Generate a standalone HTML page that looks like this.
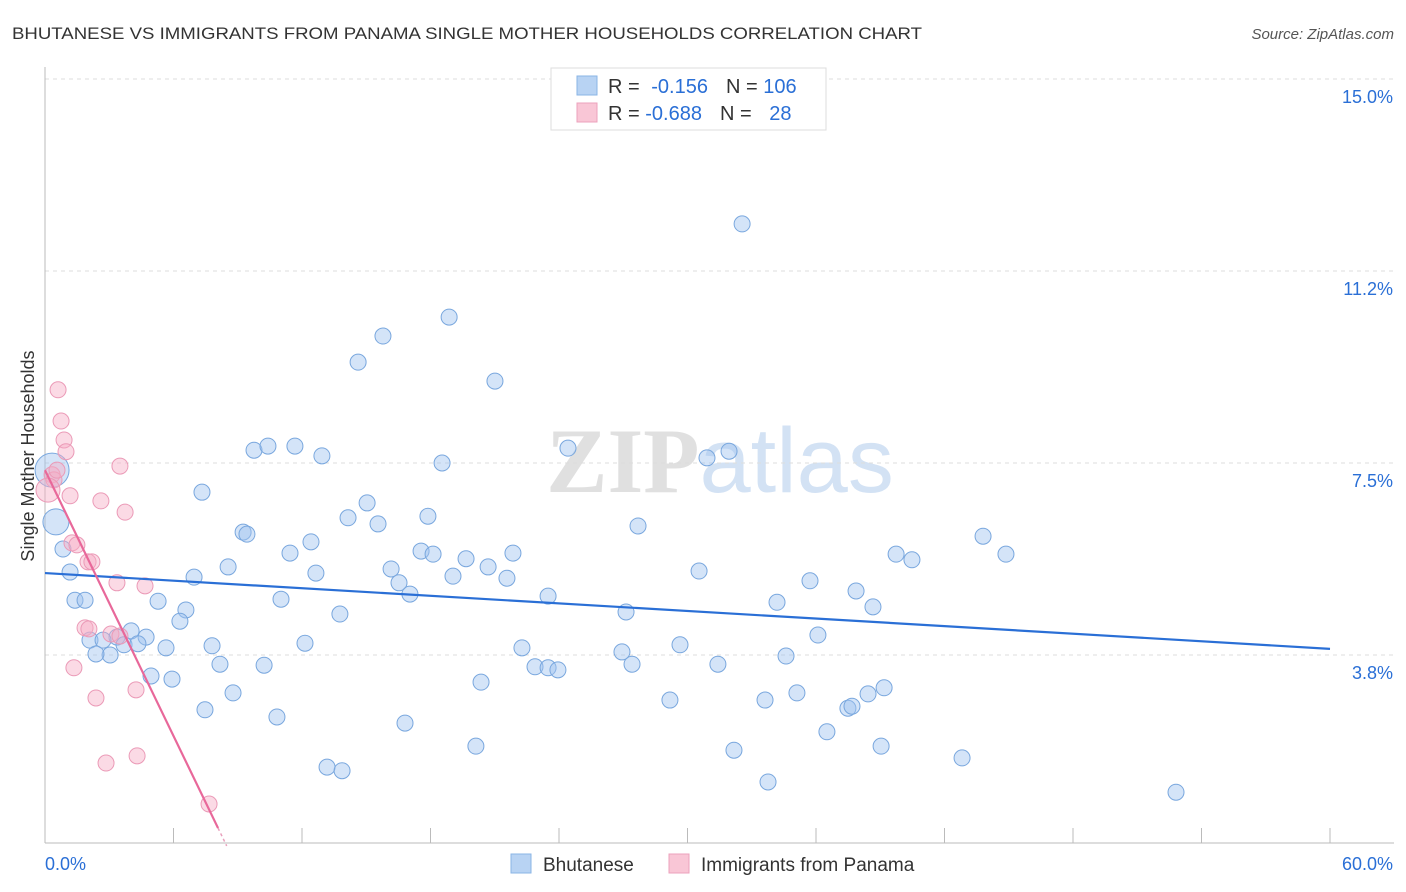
<!DOCTYPE html>
<html><head><meta charset="utf-8">
<style>
body{margin:0;background:#fff;font-family:"Liberation Sans",sans-serif;}
svg{display:block}
</style></head>
<body>
<svg id="chart" width="1406" height="892">
  <text x="12" y="39" font-size="17" fill="#333" textLength="910" lengthAdjust="spacingAndGlyphs">BHUTANESE VS IMMIGRANTS FROM PANAMA SINGLE MOTHER HOUSEHOLDS CORRELATION CHART</text>
  <text x="1394" y="39" font-size="15" fill="#555" font-style="italic" text-anchor="end">Source: ZipAtlas.com</text>
  <text x="720" y="492" font-size="92" text-anchor="middle" font-family="Liberation Serif,serif"><tspan fill="#e0e0e0" font-weight="bold">ZIP</tspan><tspan fill="#d3e2f4" font-family="Liberation Sans,sans-serif">atlas</tspan></text>
  <text transform="translate(34,456) rotate(-90)" font-size="18" fill="#333" text-anchor="middle">Single Mother Households</text>
  <g id="grid"></g>
  <g id="axes"></g>
  <g id="marks"></g>
  <g>
    <rect x="551" y="68" width="275" height="62" fill="#fff" stroke="#ddd"/>
    <rect x="577" y="76" width="20" height="19" fill="#b8d3f3" stroke="#8ab4e6"/>
    <rect x="577" y="103" width="20" height="19" fill="#f9c6d6" stroke="#eca2bc"/>
    <text x="608" y="93" font-size="20" fill="#333">R = <tspan fill="#2a6fd6" dx="6">-0.156</tspan><tspan dx="18" fill="#333">N = </tspan><tspan fill="#2a6fd6">106</tspan></text>
    <text x="608" y="120" font-size="20" fill="#333">R = <tspan fill="#2a6fd6">-0.688</tspan><tspan dx="18" fill="#333">N = </tspan><tspan fill="#2a6fd6" dx="12">28</tspan></text>
  </g>
  <g>
    <rect x="511" y="854" width="20" height="19" fill="#b8d3f3" stroke="#8ab4e6"/>
    <text x="543" y="871" font-size="19" fill="#333">Bhutanese</text>
    <rect x="669" y="854" width="20" height="19" fill="#f9c6d6" stroke="#eca2bc"/>
    <text x="701" y="871" font-size="19" fill="#333">Immigrants from Panama</text>
  </g>
</svg>
<script>
const yTicks=[15.0,11.25,7.5,3.75];
const yTickLabels=["15.0%","11.2%","7.5%","3.8%"];
const xTicks=[0,6,12,18,24,30,36,42,48,54,60];
const xTickLabels=["0.0%","60.0%"];
const blueX=[32.55,18.87,15.78,14.62,21.01,9.76,10.41,11.67,12.93,18.54,24.42,30.91,31.94,7.33,15.04,14.15,17.88,15.55,9.25,9.43,27.69,43.80,11.44,12.42,17.56,18.12,19.66,21.85,39.74,40.48,44.87,8.55,12.65,16.16,16.53,19.05,20.69,21.57,30.54,35.72,6.96,1.17,0.84,1.40,1.87,5.28,6.58,11.02,13.77,17.04,23.49,27.13,34.18,37.87,38.66,6.30,4.02,4.72,3.36,2.10,2.71,3.69,4.34,3.04,2.38,5.65,7.80,12.14,22.27,26.94,29.65,36.09,34.60,8.17,10.23,22.88,23.49,23.95,27.41,31.42,4.95,5.93,20.36,8.78,29.18,33.62,35.11,38.43,39.18,7.47,10.83,16.81,37.49,37.68,36.51,20.12,32.17,39.04,42.82,13.17,13.87,33.76,52.81,0.51,0.33];
const blueY=[12.17,10.35,9.98,9.47,9.10,7.75,7.83,7.83,7.64,7.50,7.79,7.60,7.73,6.93,6.72,6.43,6.46,6.31,6.15,6.11,6.27,6.07,5.74,5.96,5.78,5.72,5.63,5.74,5.72,5.61,5.72,5.47,5.35,5.43,5.16,5.29,5.47,5.25,5.39,5.20,5.27,5.37,5.82,4.82,4.82,4.80,4.63,4.84,4.55,4.94,4.90,4.59,4.78,5.00,4.69,4.41,4.22,4.10,4.10,4.04,4.04,3.95,3.97,3.75,3.77,3.89,3.93,3.98,3.89,3.81,3.95,4.14,3.73,3.57,3.55,3.52,3.50,3.46,3.57,3.57,3.34,3.28,3.22,3.01,2.87,2.87,3.01,2.99,3.11,2.68,2.54,2.42,2.71,2.75,2.25,1.97,1.89,1.97,1.74,1.56,1.49,1.27,1.07,6.35,7.36];
const blueSize=[];for(let i=0;i<blueX.length;i++)blueSize.push(8);blueSize[blueX.length-2]=13;blueSize[blueX.length-1]=17;
const pinkX=[0.61,0.75,0.89,0.98,3.50,0.33,0.42,0.56,1.17,2.61,3.74,1.26,1.49,2.01,2.19,3.36,4.67,1.87,2.05,3.08,3.50,1.35,2.38,4.25,2.85,4.30,7.66,0.14];
const pinkY=[8.93,8.32,7.95,7.72,7.44,7.27,7.17,7.36,6.86,6.76,6.54,5.94,5.90,5.57,5.57,5.16,5.10,4.28,4.26,4.16,4.12,3.50,2.91,3.07,1.64,1.78,0.84,6.97];
const blueTrend=[5.35,3.87];
const pinkTrend=[7.36,0.37,8.08];

const NS="http://www.w3.org/2000/svg";
const sx=v=>45+v/60*1285;
const sy=v=>79+(15-v)*51.2;
function mk(tag,attrs,parent){const e=document.createElementNS(NS,tag);for(const k in attrs)e.setAttribute(k,attrs[k]);document.getElementById(parent).appendChild(e);return e;}
yTicks.forEach((t,i)=>{
  const l=mk('line',{x1:45,x2:1394,y1:sy(t),y2:sy(t),stroke:'#ddd','stroke-dasharray':'4,4'},'grid');
  
  
  const tx=mk('text',{x:1393,y:sy(t)+24,'font-size':18,fill:'#2a6fd6','text-anchor':'end'},'grid');
  tx.textContent=yTickLabels[i];
  
  
});
let a=mk('line',{x1:45,x2:45,y1:67,y2:843,stroke:'#bbb'},'axes');


a=mk('line',{x1:45,x2:1394,y1:843,y2:843,stroke:'#bbb'},'axes');


xTicks.forEach(t=>{
  const l=mk('line',{x1:sx(t),x2:sx(t),y1:828,y2:843,stroke:'#bbb'},'axes');
  
  
});
let t1=mk('text',{x:45,y:870,'font-size':18,fill:'#2a6fd6'},'axes');t1.textContent=xTickLabels[0];


let t2=mk('text',{x:1393,y:870,'font-size':18,fill:'#2a6fd6','text-anchor':'end'},'axes');t2.textContent=xTickLabels[1];


blueX.forEach((x,i)=>{
  const c=mk('circle',{cx:sx(x),cy:sy(blueY[i]),r:blueSize[i],fill:'rgba(160,196,240,0.45)',stroke:'#79a7de','stroke-width':1},'marks');
  
  
});
pinkX.forEach((x,i)=>{
  const c=mk('circle',{cx:sx(x),cy:sy(pinkY[i]),r:i==pinkX.length-1?12:8,fill:'rgba(246,172,198,0.45)',stroke:'#eb9ab7','stroke-width':1},'marks');
  
  
});
let bl=mk('line',{x1:sx(0),y1:sy(blueTrend[0]),x2:sx(60),y2:sy(blueTrend[1]),stroke:'#2a6fd6','stroke-width':2.2},'marks');


const pEnd=pinkTrend[2]*1.0, pYEnd=pinkTrend[1];
let pl=mk('line',{x1:sx(0),y1:sy(pinkTrend[0]),x2:sx(pEnd),y2:sy(pYEnd),stroke:'#e8689a','stroke-width':2.2},'marks');


let pd=mk('line',{x1:sx(pEnd),y1:sy(pYEnd),x2:sx(pinkTrend[2]*1.05),y2:sy(pinkTrend[0]+(pinkTrend[1]-pinkTrend[0])*1.05),stroke:'#e8a0bc','stroke-width':1.5,'stroke-dasharray':'3,3'},'marks');


</script>
</body></html>
